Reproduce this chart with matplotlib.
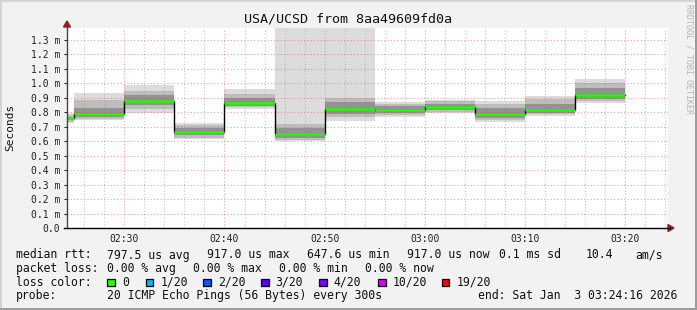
import matplotlib
matplotlib.use("Agg")
import matplotlib.pyplot as plt
from matplotlib.patches import Rectangle, Polygon
from matplotlib.lines import Line2D
import numpy as np

W, H = 697, 310

# step edges in minutes after 02:00 (5 min steps, window ends 03:24:16)
t_edges = [24.27, 25, 30, 35, 40, 45, 50, 55, 60, 65, 70, 75, 80]
t_end = 84.27

# values in ms (axis shows "m" = milliseconds of seconds)
median   = [0.758, 0.787, 0.878, 0.664, 0.862, 0.648, 0.820, 0.814, 0.839, 0.790, 0.814, 0.923]
lo_outer = [0.724, 0.745, 0.795, 0.612, 0.820, 0.600, 0.742, 0.770, 0.793, 0.735, 0.775, 0.867]
hi_outer = [0.797, 0.935, 0.990, 0.728, 0.960, 1.600, 1.600, 0.873, 0.885, 0.880, 0.913, 1.030]
lo_mid   = [0.735, 0.757, 0.820, 0.625, 0.835, 0.610, 0.765, 0.780, 0.805, 0.745, 0.785, 0.875]
hi_mid   = [0.780, 0.885, 0.950, 0.710, 0.930, 0.720, 0.900, 0.860, 0.875, 0.855, 0.890, 1.000]
lo_core  = [0.745, 0.770, 0.850, 0.640, 0.845, 0.625, 0.790, 0.795, 0.815, 0.760, 0.795, 0.890]
hi_core  = [0.770, 0.830, 0.920, 0.690, 0.900, 0.690, 0.870, 0.845, 0.860, 0.830, 0.860, 0.970]

yticks = [0.0, 0.1, 0.2, 0.3, 0.4, 0.5, 0.6, 0.7, 0.8, 0.9, 1.0, 1.1, 1.2, 1.3]
ylabels = ["0.0"] + ["%.1f m" % v for v in yticks[1:]]
xticks = [30, 40, 50, 60, 70, 80]
xlabels = ["02:30", "02:40", "02:50", "03:00", "03:10", "03:20"]

loss_labels = ["0", "1/20", "2/20", "3/20", "4/20", "10/20", "19/20"]
loss_colors = ["#26ff00", "#00b8ff", "#0059ff", "#5e00ff", "#7e00ff", "#dd00ff", "#ff0000"]

plt.rcParams['font.family'] = ['DejaVu Sans Mono']

fig = plt.figure(figsize=(W / 100, H / 100), dpi=100, facecolor="#F2F2F2")


def fx(x):
    return x / W


def fy(y):
    return 1 - y / H


ax = fig.add_axes([fx(67), fy(228), fx(667.7) - fx(67), 200 / H])
ax.set_facecolor("white")
ax.set_xlim(t_edges[0], t_end)
ax.set_ylim(0, 1.383)
for s in ax.spines.values():
    s.set_visible(False)


def ext(a):
    return list(a) + [a[-1]]


# smoke
ax.fill_between(t_edges, ext(lo_outer), ext(hi_outer), step="post", color="#DCDCDC", lw=0, zorder=1)
ax.fill_between(t_edges, ext(lo_mid), ext(hi_mid), step="post", color="#BDBDBD", lw=0, zorder=1)
ax.fill_between(t_edges, ext(lo_core), ext(hi_core), step="post", color="#929292", lw=0, zorder=1)

# grid (dotted)
dots = (0, (1, 2.2))
for m in range(26, 85, 2):
    if m % 10 == 0:
        continue
    ax.axvline(m, color=(0.55, 0.55, 0.55, 0.55), lw=0.75, ls=dots, zorder=2)
for m in xticks:
    ax.axvline(m, color=(0.9, 0.2, 0.2, 0.5), lw=0.75, ls=dots, zorder=2)
for v in yticks[1:]:
    ax.axhline(v, color=(0.9, 0.2, 0.2, 0.5), lw=0.75, ls=dots, zorder=2)

# median line
ax.step(t_edges, ext(median), where="post", color="black", lw=1.0, zorder=3)
ax.hlines(median, t_edges[:-1], t_edges[1:], color="#22ff00", lw=1.8, zorder=4)

ax.set_xticks(xticks)
ax.set_xticklabels(xlabels)
ax.set_yticks(yticks)
ax.set_yticklabels(ylabels)
ax.tick_params(axis="x", length=0, pad=4, labelsize=7, colors="#222222")
ax.tick_params(axis="y", length=2, width=0.8, pad=3, labelsize=7, colors="#222222")

# axes lines and arrows
fig.add_artist(Line2D([fx(67), fx(67)], [fy(228), fy(26)], color="#444444", lw=1))
fig.add_artist(Line2D([fx(64), fx(670)], [fy(228), fy(228)], color="black", lw=1))
fig.add_artist(Polygon([(fx(67), fy(21)), (fx(63.5), fy(27)), (fx(70.5), fy(27))],
                       closed=True, color="#9a1c1c"))
fig.add_artist(Polygon([(fx(674), fy(228)), (fx(668), fy(224.5)), (fx(668), fy(231.5))],
                       closed=True, color="#9a1c1c"))

# frame
fig.add_artist(Rectangle((0, fy(2)), 1, 2 / H, color="#D4D4D4", lw=0))
fig.add_artist(Rectangle((0, 0), 2 / W, 1, color="#D4D4D4", lw=0))
fig.add_artist(Rectangle((fx(695), 0), 2 / W, 1, color="#9C9C9C", lw=0))
fig.add_artist(Rectangle((0, 0), 1, 2 / H, color="#9C9C9C", lw=0))

fig.text(fx(347.5), fy(19.5), "USA/UCSD from 8aa49609fd0a", ha="center", va="center",
         fontsize=9.6, color="#111111")
fig.text(fx(10), fy(127), "Seconds", rotation=90, ha="center", va="center",
         fontsize=8, color="#111111")
fig.text(fx(689), fy(4), "RRDTOOL / TOBI OETIKER", rotation=270, ha="center", va="top",
         fontsize=6, color="#B4B4B4")

fs = 8.3
tc = "#111111"
row1 = [(16, "median rtt:"), (107.3, "797.5 us avg"), (207.3, "917.0 us max"),
        (307.3, "647.6 us min"), (407.3, "917.0 us now"), (499, "0.1 ms sd"),
        (586, "10.4"), (635, "am/s")]
row2 = [(16, "packet loss:"), (107.3, "0.00 % avg"), (193.3, "0.00 % max"),
        (279.3, "0.00 % min"), (365, "0.00 % now")]
for x, s in row1:
    fig.text(fx(x), fy(255), s, ha="left", va="center", fontsize=fs, color=tc)
for x, s in row2:
    fig.text(fx(x), fy(268.5), s, ha="left", va="center", fontsize=fs, color=tc)

fig.text(fx(16), fy(282.3), "loss color:", ha="left", va="center", fontsize=fs, color=tc)
box_x = [107.3, 145.7, 203.3, 261, 319.3, 378.3, 441.7]
for bx, lab, col in zip(box_x, loss_labels, loss_colors):
    fig.add_artist(Rectangle((fx(bx), fy(286)), 7.5 / W, 7.5 / H, facecolor=col,
                             edgecolor="black", lw=0.9))
    fig.text(fx(bx + 14.5), fy(282.3), lab, ha="left", va="center", fontsize=fs, color=tc)

fig.text(fx(16), fy(295.7), "probe:", ha="left", va="center", fontsize=fs, color=tc)
fig.text(fx(107.3), fy(295.7), "20 ICMP Echo Pings (56 Bytes) every 300s", ha="left",
         va="center", fontsize=fs, color=tc)
fig.text(fx(478.3), fy(295.7), "end: Sat Jan  3 03:24:16 2026", ha="left", va="center",
         fontsize=fs, color=tc)

fig.savefig("out.png", dpi=100, facecolor=fig.get_facecolor())
